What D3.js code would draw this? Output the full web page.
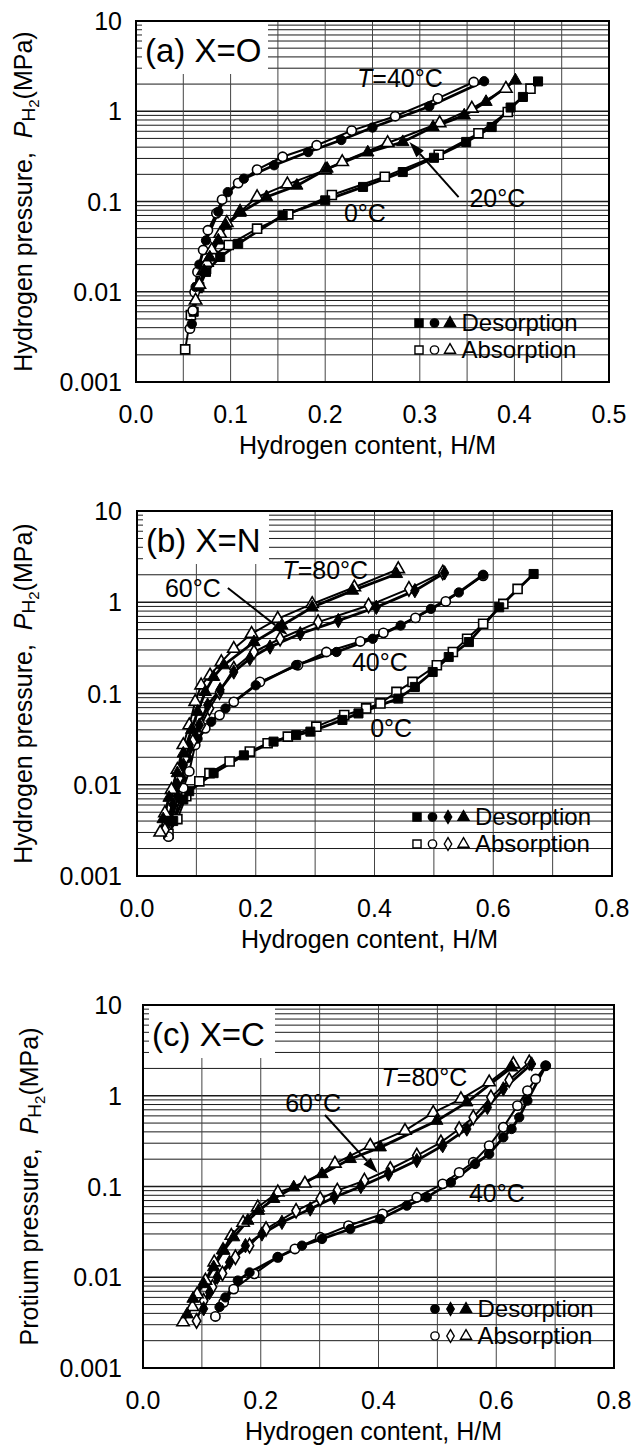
<!DOCTYPE html>
<html>
<head>
<meta charset="utf-8">
<script src="https://cdn.jsdelivr.net/npm/d3@7"></script>
<style>
body { margin: 0; background: #fff; }
text { font-family: "Liberation Sans", Arial, Helvetica, sans-serif; fill: #000; }
</style>
</head>
<body>
<svg width="633" height="1447"></svg>
<script>
// tick labels
const yTicks = [0.001, 0.01, 0.1, 1, 10];
const xTicksA = [0, 0.1, 0.2, 0.3, 0.4, 0.5];
const xTicksBC = [0, 0.2, 0.4, 0.6, 0.8];

// panel (a) X=O, points are [H/M, MPa]
const a0Abs = [[0.052,0.0023],[0.058,0.0055],[0.065,0.011],[0.074,0.018],[0.081,0.025],[0.098,0.033],[0.128,0.050],[0.161,0.072],[0.207,0.118],[0.263,0.188],[0.320,0.33],[0.362,0.57],[0.393,0.98],[0.417,1.78]];
const a0Des = [[0.061,0.006],[0.067,0.0113],[0.074,0.0166],[0.089,0.0243],[0.108,0.034],[0.155,0.070],[0.200,0.103],[0.240,0.145],[0.282,0.212],[0.315,0.305],[0.349,0.457],[0.376,0.668],[0.396,1.10],[0.409,1.44],[0.425,2.14]];
const a20Abs = [[0.063,0.008],[0.067,0.012],[0.071,0.017],[0.075,0.021],[0.080,0.029],[0.089,0.044],[0.096,0.058],[0.110,0.077],[0.128,0.112],[0.160,0.155],[0.200,0.223],[0.218,0.274],[0.266,0.445],[0.321,0.74],[0.355,1.07],[0.391,1.78]];
const a20Des = [[0.072,0.017],[0.078,0.024],[0.087,0.037],[0.095,0.054],[0.110,0.075],[0.138,0.112],[0.170,0.150],[0.202,0.231],[0.245,0.350],[0.282,0.456],[0.314,0.668],[0.347,0.90],[0.370,1.27],[0.401,2.2]];
const a40Abs = [[0.057,0.0039],[0.060,0.0062],[0.062,0.0099],[0.065,0.0166],[0.071,0.029],[0.076,0.048],[0.085,0.074],[0.091,0.105],[0.108,0.160],[0.128,0.225],[0.155,0.313],[0.191,0.42],[0.228,0.61],[0.274,0.88],[0.319,1.39],[0.357,2.11]];
const a40Des = [[0.059,0.0044],[0.063,0.0113],[0.067,0.020],[0.074,0.037],[0.087,0.077],[0.097,0.127],[0.114,0.179],[0.146,0.252],[0.182,0.353],[0.217,0.48],[0.250,0.66],[0.310,1.13],[0.368,2.15]];

// panel (b) X=N
const b0Abs = [[0.053,0.0029],[0.068,0.0042],[0.083,0.0075],[0.105,0.0109],[0.122,0.0134],[0.156,0.018],[0.190,0.0231],[0.220,0.0285],[0.254,0.0337],[0.302,0.0433],[0.349,0.058],[0.386,0.0686],[0.410,0.0778],[0.437,0.104],[0.464,0.134],[0.505,0.204],[0.532,0.285],[0.556,0.398],[0.583,0.58],[0.617,0.96],[0.641,1.40]];
const b0Des = [[0.061,0.004],[0.078,0.0069],[0.088,0.0085],[0.129,0.0134],[0.180,0.021],[0.230,0.0297],[0.268,0.035],[0.292,0.0382],[0.346,0.0513],[0.373,0.0605],[0.440,0.088],[0.468,0.118],[0.498,0.172],[0.525,0.251],[0.559,0.366],[0.610,0.88],[0.668,2.04]];
const b40Abs = [[0.053,0.0027],[0.078,0.0092],[0.088,0.014],[0.098,0.0273],[0.115,0.0415],[0.139,0.058],[0.163,0.081],[0.207,0.134],[0.271,0.204],[0.319,0.285],[0.376,0.372],[0.415,0.462],[0.469,0.674],[0.520,1.02],[0.583,1.95]];
const b40Des = [[0.058,0.004],[0.068,0.0072],[0.075,0.0118],[0.085,0.0195],[0.102,0.032],[0.125,0.049],[0.149,0.0686],[0.200,0.123],[0.268,0.205],[0.336,0.285],[0.397,0.398],[0.444,0.556],[0.495,0.846],[0.542,1.28],[0.583,2.0]];
const b60Abs = [[0.047,0.0032],[0.060,0.0065],[0.071,0.0118],[0.081,0.0195],[0.094,0.0297],[0.108,0.045],[0.122,0.0686],[0.139,0.104],[0.163,0.187],[0.197,0.285],[0.241,0.398],[0.305,0.605],[0.390,0.92],[0.458,1.40],[0.515,2.12]];
const b60Des = [[0.054,0.004],[0.061,0.006],[0.068,0.010],[0.078,0.0165],[0.088,0.0273],[0.105,0.045],[0.119,0.0746],[0.140,0.11],[0.163,0.172],[0.190,0.241],[0.224,0.323],[0.275,0.452],[0.339,0.63],[0.403,0.88],[0.468,1.34],[0.518,2.1]];
const b80Abs = [[0.039,0.003],[0.047,0.0049],[0.058,0.0088],[0.068,0.0146],[0.078,0.0273],[0.088,0.045],[0.098,0.081],[0.108,0.123],[0.123,0.158],[0.142,0.221],[0.163,0.31],[0.193,0.452],[0.237,0.658],[0.295,0.96],[0.366,1.46],[0.440,2.31]];
const b80Des = [[0.044,0.0042],[0.054,0.0072],[0.068,0.0134],[0.078,0.022],[0.092,0.040],[0.102,0.063],[0.115,0.104],[0.129,0.152],[0.146,0.204],[0.197,0.366],[0.244,0.556],[0.295,0.88],[0.363,1.34],[0.437,2.04]];

// panel (c) X=C
const c40Abs = [[0.123,0.0037],[0.137,0.0053],[0.154,0.0074],[0.189,0.0109],[0.229,0.0166],[0.258,0.0205],[0.301,0.0276],[0.349,0.037],[0.407,0.0498],[0.465,0.076],[0.509,0.107],[0.537,0.143],[0.561,0.185],[0.588,0.282],[0.612,0.449],[0.636,0.778],[0.653,1.14],[0.667,1.53],[0.684,2.14]];
const c40Des = [[0.130,0.0047],[0.140,0.006],[0.161,0.0092],[0.181,0.0113],[0.229,0.0166],[0.270,0.0223],[0.304,0.0264],[0.352,0.034],[0.403,0.0438],[0.448,0.0615],[0.482,0.076],[0.523,0.111],[0.564,0.177],[0.588,0.228],[0.612,0.348],[0.626,0.43],[0.639,0.578],[0.653,0.883],[0.684,2.14]];
const c60Abs = [[0.091,0.0033],[0.103,0.0055],[0.118,0.0078],[0.135,0.011],[0.157,0.0166],[0.181,0.0223],[0.209,0.034],[0.260,0.054],[0.301,0.073],[0.330,0.090],[0.376,0.116],[0.420,0.156],[0.465,0.219],[0.506,0.307],[0.537,0.43],[0.561,0.578],[0.591,0.96],[0.622,1.49],[0.656,2.33]];
const c60Des = [[0.103,0.0045],[0.113,0.0068],[0.126,0.010],[0.147,0.0146],[0.174,0.0223],[0.202,0.030],[0.236,0.0403],[0.284,0.0565],[0.325,0.076],[0.370,0.100],[0.417,0.137],[0.465,0.193],[0.509,0.282],[0.550,0.43],[0.585,0.744],[0.612,1.19],[0.660,2.24]];
const c80Abs = [[0.068,0.0032],[0.084,0.0047],[0.092,0.0065],[0.106,0.0092],[0.121,0.0146],[0.136,0.020],[0.150,0.0287],[0.170,0.040],[0.195,0.059],[0.229,0.0863],[0.275,0.108],[0.326,0.179],[0.386,0.282],[0.445,0.412],[0.493,0.651],[0.540,0.92],[0.588,1.41],[0.629,2.24]];
const c80Des = [[0.075,0.0039],[0.085,0.0058],[0.103,0.0084],[0.120,0.0129],[0.137,0.0196],[0.154,0.0276],[0.178,0.042],[0.196,0.054],[0.222,0.073],[0.256,0.098],[0.304,0.137],[0.352,0.201],[0.403,0.27],[0.499,0.53],[0.550,0.845],[0.626,2.05]];

const svg = d3.select("svg");

function drawPanel(p) {
    const x = d3.scaleLinear().domain([0, p.xMax]).range([p.left, p.right]);
    const y = d3.scaleLog().domain([0.001, 10]).range([p.bottom, p.top]);
    const g = svg.append("g");

    // horizontal grid, 1..9 in each decade
    const minor = [];
    [0.001, 0.01, 0.1, 1].forEach(function(d) {
        for (let k = 1; k <= 9; k++) minor.push(d * k);
    });
    g.selectAll(".hg").data(minor).enter().append("line")
        .attr("x1", p.left).attr("x2", p.right)
        .attr("y1", d => y(d)).attr("y2", d => y(d))
        .attr("stroke", "#1a1a1a")
        .attr("stroke-width", d => yTicks.includes(d) ? 1.7 : 1);

    // vertical grid
    const vg = d3.range(1, Math.round(p.xMax / p.xGrid)).map(i => i * p.xGrid);
    g.selectAll(".vg").data(vg).enter().append("line")
        .attr("x1", d => x(d)).attr("x2", d => x(d))
        .attr("y1", p.top).attr("y2", p.bottom)
        .attr("stroke", "#444").attr("stroke-width", 1);

    // panel label box
    g.append("rect")
        .attr("x", p.left + 1).attr("y", p.top + 1)
        .attr("width", 131).attr("height", 52)
        .attr("fill", "#fff");
    g.selectAll(".lt").data(minor.filter(d => y(d) < p.top + 54 && y(d) > p.top + 1)).enter().append("line")
        .attr("x1", p.left).attr("x2", p.left + 6)
        .attr("y1", d => y(d)).attr("y2", d => y(d))
        .attr("stroke", "#222").attr("stroke-width", 1);
    g.append("text")
        .attr("x", p.left + 9).attr("y", p.top + 41)
        .attr("font-size", 33)
        .text(p.label);

    // frame
    g.append("rect")
        .attr("x", p.left).attr("y", p.top)
        .attr("width", p.right - p.left).attr("height", p.bottom - p.top)
        .attr("fill", "none").attr("stroke", "#000").attr("stroke-width", 2);

    // tick labels
    g.selectAll(".yl").data(yTicks).enter().append("text")
        .attr("x", 122).attr("y", d => y(d) + 9)
        .attr("text-anchor", "end").attr("font-size", 25)
        .text(d => d.toString());
    g.selectAll(".xl").data(p.xTicks).enter().append("text")
        .attr("x", d => x(d)).attr("y", p.bottom + 41)
        .attr("text-anchor", "middle").attr("font-size", 25)
        .text(d => d.toFixed(1));

    // axis titles
    g.append("text")
        .attr("x", (p.left + p.right) / 2 - 5).attr("y", p.bottom + 72)
        .attr("text-anchor", "middle").attr("font-size", 25)
        .text("Hydrogen content, H/M");
    const yt = g.append("text")
        .attr("transform", "translate(" + p.yTitleX + "," + ((p.top + p.bottom) / 2) + ") rotate(-90)")
        .attr("text-anchor", "middle").attr("font-size", 25);
    yt.append("tspan").text(p.yTitle + ", \u00a0");
    yt.append("tspan").attr("font-style", "italic").text("P");
    yt.append("tspan").attr("font-size", 19).attr("dy", 3).text("H");
    yt.append("tspan").attr("font-size", 15).attr("dy", 4).text("2");
    yt.append("tspan").attr("dy", -7).text("(MPa)");

    // curves
    const line = d3.line().x(d => x(d[0])).y(d => y(d[1]));
    p.series.forEach(function(s) {
        g.append("path").datum(s.abs)
            .attr("d", line).attr("fill", "none")
            .attr("stroke", "#000").attr("stroke-width", 2);
        g.append("path").datum(s.des)
            .attr("d", line).attr("fill", "none")
            .attr("stroke", "#000").attr("stroke-width", 2.8);
    });
    p.series.forEach(function(s) {
        const sym = d3.symbol().type(s.shape).size(s.size);
        g.selectAll(null).data(s.abs).enter().append("path")
            .attr("d", sym)
            .attr("transform", d => "translate(" + x(d[0]) + "," + y(d[1]) + ")")
            .attr("fill", "#fff").attr("stroke", "#000").attr("stroke-width", 1.6);
        g.selectAll(null).data(s.des).enter().append("path")
            .attr("d", sym)
            .attr("transform", d => "translate(" + x(d[0]) + "," + y(d[1]) + ")")
            .attr("fill", "#000").attr("stroke", "#000").attr("stroke-width", 1);
    });

    // temperature labels
    p.notes.forEach(function(n) {
        const t = g.append("text")
            .attr("x", x(n.at[0])).attr("y", y(n.at[1]) + 9)
            .attr("text-anchor", "middle").attr("font-size", 25);
        if (n.italicT) {
            t.append("tspan").attr("font-style", "italic").text("T");
            t.append("tspan").text("=" + n.text);
        } else {
            t.text(n.text);
        }
    });

    // arrow
    const a0 = [x(p.arrow[0][0]), y(p.arrow[0][1])];
    const a1 = [x(p.arrow[1][0]), y(p.arrow[1][1])];
    const ang = Math.atan2(a1[1] - a0[1], a1[0] - a0[0]);
    const back = [a1[0] - 16 * Math.cos(ang), a1[1] - 16 * Math.sin(ang)];
    g.append("line")
        .attr("x1", a0[0]).attr("y1", a0[1]).attr("x2", back[0]).attr("y2", back[1])
        .attr("stroke", "#000").attr("stroke-width", 2);
    g.append("path")
        .attr("d", "M" + a1[0] + "," + a1[1] +
            "L" + (back[0] + 5 * Math.sin(ang)) + "," + (back[1] - 5 * Math.cos(ang)) +
            "L" + (back[0] - 5 * Math.sin(ang)) + "," + (back[1] + 5 * Math.cos(ang)) + "Z")
        .attr("fill", "#000");

    // legend
    const rows = [{ y: p.bottom - 59, name: "Desorption", fill: "#000" },
                  { y: p.bottom - 32, name: "Absorption", fill: "#fff" }];
    rows.forEach(function(r) {
        p.series.forEach(function(s, i) {
            g.append("path")
                .attr("d", d3.symbol().type(s.shape).size(s.size * 0.8))
                .attr("transform", "translate(" + (p.legendX + i * 15.5) + "," + r.y + ")")
                .attr("fill", r.fill).attr("stroke", "#000").attr("stroke-width", 1.4);
        });
        g.append("text")
            .attr("x", p.legendX + p.series.length * 15.5 - 4).attr("y", r.y + 8)
            .attr("font-size", 24).text(r.name);
    });
}

drawPanel({
    left: 136, right: 609, top: 21, bottom: 382, xMax: 0.5, xGrid: 0.05, xTicks: xTicksA,
    label: "(a) X=O", yTitle: "Hydrogen pressure", yTitleX: 32, legendX: 419,
    series: [
        { abs: a0Abs, des: a0Des, shape: d3.symbolSquare, size: 82 },
        { abs: a40Abs, des: a40Des, shape: d3.symbolCircle, size: 68 },
        { abs: a20Abs, des: a20Des, shape: d3.symbolTriangle, size: 66 }
    ],
    notes: [
        { text: "40°C", at: [0.279, 2.33], italicT: true },
        { text: "20°C", at: [0.382, 0.109] },
        { text: "0°C", at: [0.242, 0.0746] }
    ],
    arrow: [[0.341, 0.112], [0.289, 0.456]]
});

drawPanel({
    left: 137, right: 612, top: 511, bottom: 876, xMax: 0.8, xGrid: 0.1, xTicks: xTicksBC,
    label: "(b) X=N", yTitle: "Hydrogen pressure", yTitleX: 32, legendX: 417,
    series: [
        { abs: b0Abs, des: b0Des, shape: d3.symbolSquare, size: 82 },
        { abs: b40Abs, des: b40Des, shape: d3.symbolCircle, size: 68 },
        { abs: b60Abs, des: b60Des, shape: d3.symbolDiamond, size: 60 },
        { abs: b80Abs, des: b80Des, shape: d3.symbolTriangle, size: 66 }
    ],
    notes: [
        { text: "80°C", at: [0.317, 2.26], italicT: true },
        { text: "60°C", at: [0.094, 1.43] },
        { text: "40°C", at: [0.409, 0.221] },
        { text: "0°C", at: [0.428, 0.0419] }
    ],
    arrow: [[0.153, 1.43], [0.254, 0.438]]
});

drawPanel({
    left: 143, right: 614, top: 1005, bottom: 1368, xMax: 0.8, xGrid: 0.1, xTicks: xTicksBC,
    label: "(c) X=C", yTitle: "Protium pressure", yTitleX: 38, legendX: 435,
    series: [
        { abs: c40Abs, des: c40Des, shape: d3.symbolCircle, size: 68 },
        { abs: c60Abs, des: c60Des, shape: d3.symbolDiamond, size: 60 },
        { abs: c80Abs, des: c80Des, shape: d3.symbolTriangle, size: 66 }
    ],
    notes: [
        { text: "80°C", at: [0.478, 1.61], italicT: true },
        { text: "60°C", at: [0.289, 0.83] },
        { text: "40°C", at: [0.601, 0.085] }
    ],
    arrow: [[0.309, 0.614], [0.399, 0.141]]
});
</script>
</body>
</html>
